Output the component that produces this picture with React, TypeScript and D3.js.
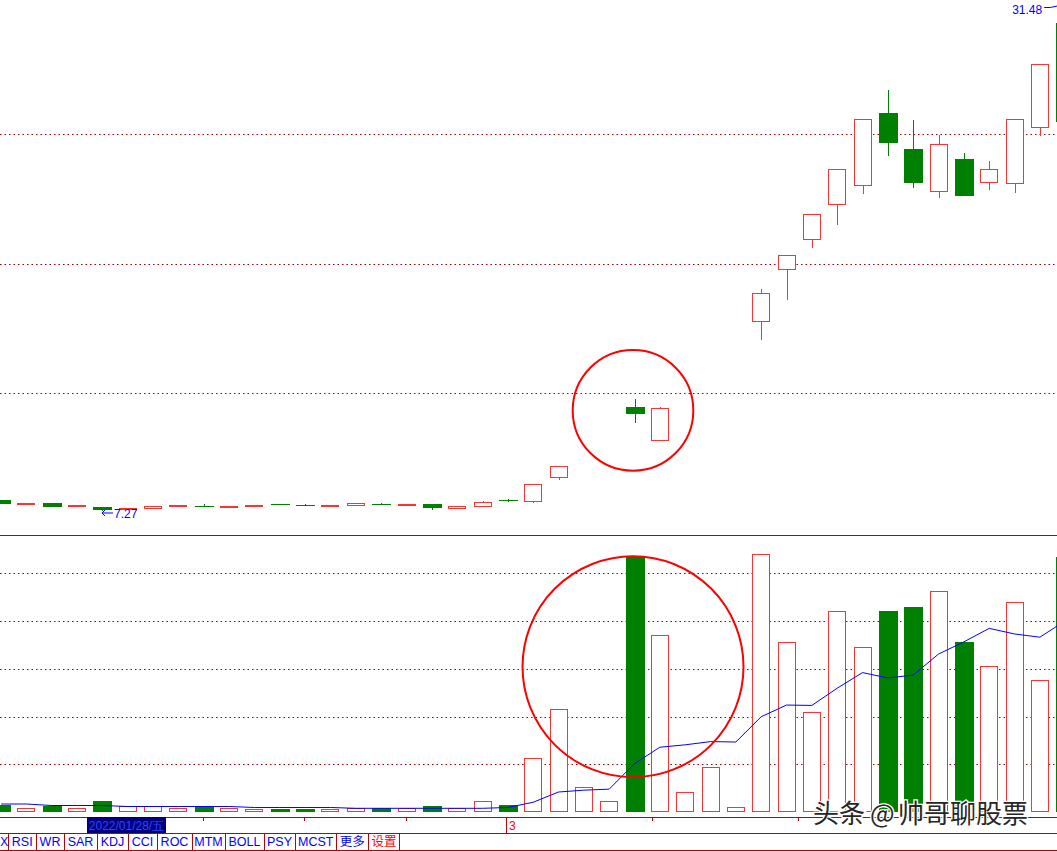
import React from 'react';
import * as d3 from 'd3';

// ---------- data (index -1 .. 41, one entry per trading day) ----------
const dayIndex = [-1, 0, 1, 2, 3, 4, 5, 6, 7, 8, 9, 10, 11, 12, 13, 14, 15, 16, 17, 18, 19, 20, 21, 22, 23, 24, 25, 26, 27, 28, 29, 30, 31, 32, 33, 34, 35, 36, 37, 38, 39, 40, 41];

const opens: (number | null)[] = [7.774, 7.534, 7.63, 7.438, 7.438, 7.28, 7.356, 7.453, 7.49, 7.404, 7.453, 7.57, 7.52, 7.438, 7.5, 7.57, 7.486, 7.582, 7.356, 7.453, 7.76, 7.678, 8.846, null, null, 12.227, 10.623, null, null, null, 16.31, 18.808, 20.264, 21.93, 22.843, 26.364, 24.635, 22.584, 24.155, 22.987, 22.939, 25.63, 30.7];
const highs: (number | null)[] = [7.774, 7.63, 7.63, 7.534, 7.438, 7.39, 7.5, 7.549, 7.568, 7.5, 7.549, 7.57, 7.58, 7.534, 7.63, 7.63, 7.582, 7.582, 7.486, 7.726, 7.837, 8.543, 9.408, null, null, 12.626, 12.24, null, null, null, 17.91, 19.529, 21.498, 23.66, 26.076, 27.47, 26.028, 25.31, 24.44, 24.06, 26.076, 28.718, 31.48];
const lows: (number | null)[] = [7.582, 7.534, 7.438, 7.438, 7.27, 7.28, 7.356, 7.453, 7.485, 7.404, 7.453, 7.565, 7.515, 7.438, 7.5, 7.565, 7.486, 7.31, 7.356, 7.453, 7.678, 7.63, 8.735, null, null, 11.488, 10.623, null, null, null, 15.46, 17.38, 19.89, 20.98, 22.46, 24.31, 22.776, 22.296, 22.39, 22.665, 22.536, 25.274, 25.9];
const closes: (number | null)[] = [7.582, 7.63, 7.438, 7.534, 7.294, 7.39, 7.5, 7.549, 7.485, 7.5, 7.549, 7.565, 7.515, 7.534, 7.63, 7.565, 7.582, 7.39, 7.486, 7.678, 7.755, 8.543, 9.408, null, null, 11.905, 12.179, null, null, null, 17.703, 19.529, 21.498, 23.66, 26.076, 24.937, 23.016, 24.861, 22.39, 23.66, 26.076, 28.718, 25.95];

const volumes = [3.01, 1.63, 2.72, 1.63, 4.81, 2.47, 2.47, 1.63, 2.47, 1.63, 1.21, 1.34, 1.34, 1.21, 1.55, 1.55, 1.55, 2.72, 1.55, 4.56, 3.01, 22.56, 43.07, 10.42, 4.56, 106.95, 74.05, 8.33, 18.79, 2.18, 107.95, 71.12, 41.82, 84.22, 69.02, 84.22, 85.89, 92.47, 71.24, 61.07, 87.99, 55.21, 106.95];
const volumeMA10 = [3.43, 3.43, 2.8, 2.8, 2.8, 2.39, 2.39, 2.39, 2.39, 2.39, 1.97, 1.97, 1.97, 1.97, 1.63, 1.63, 1.63, 1.63, 1.63, 1.63, 1.97, 4.16, 8.45, 9.22, 9.65, 20.3, 27.2, 28.2, 29.55, 29.38, 39.95, 44.85, 44.7, 51.9, 58.44, 56.17, 57.4, 66.2, 71.3, 76.95, 74.6, 73.25, 80.1];

const priceGrid = [12.9, 19.12, 25.34];
const volumeGrid = [20, 40, 60, 80, 100];
const timeTicks = [6.95, 10.96, 14.97, 24.7, 30.45];
const monthMarks = [{ at: 18.92, label: '3' }];
const cursorDate = '2022/01/28/五';
const tabLabels = ['X', 'RSI', 'WR', 'SAR', 'KDJ', 'CCI', 'ROC', 'MTM', 'BOLL', 'PSY', 'MCST', '更多', '设置'];
const highlightDay = 24;
const watermark = ['头条', '@', '帅哥聊股票'];

// ---------- styling ----------
const W = 1057;
const H = 852;
const RED = '#ff3232';
const GREEN = '#008000';
const BLUE = '#0000ff';
const LINE = '#c00000';
const GRID = '#a00000';
const FONT = '"Liberation Sans", Arial, sans-serif';
const CJK = '"Noto Sans CJK SC", "Liberation Sans", sans-serif';

export default function App() {
  const x = d3.scaleLinear().domain([-1, 41]).range([1.15, 1065.2]);
  const yP = d3.scaleLinear().domain([7.27, 31.48]).range([510.5, 6.5]);
  const yV = d3.scaleLinear().domain([0, 100]).range([812.2, 573.3]);

  const maLine = d3
    .line<number>()
    .x((_, k) => x(dayIndex[k]))
    .y((v) => yV(v))(volumeMA10) as string;

  // max / min labels
  const validHighs = highs.map((h, k) => ({ h, k })).filter((d) => d.h != null) as { h: number; k: number }[];
  const validLows = lows.map((l, k) => ({ l, k })).filter((d) => d.l != null) as { l: number; k: number }[];
  const maxItem = validHighs.reduce((a, b) => (b.h > a.h ? b : a));
  const minItem = validLows.reduce((a, b) => (b.l < a.l ? b : a));
  const maxX = x(dayIndex[maxItem.k]);
  const maxY = yP(maxItem.h);
  const minX = Math.round(x(dayIndex[minItem.k]));
  const minY = yP(minItem.l);

  const tabEdges = [8, 35.5, 63.5, 96.5, 127.5, 156.5, 191.5, 224.5, 263.5, 294.5, 336, 367.7, 399.3];

  const hx = x(highlightDay) - 1.5;

  return (
    <svg
      width={W}
      height={H}
      style={{ position: 'absolute', left: 0, top: 0, background: '#fff', display: 'block' }}
      xmlns="http://www.w3.org/2000/svg"
    >
      <rect x={0} y={0} width={W} height={H} fill="#fff" />

      {/* price grid */}
      {priceGrid.map((g) => (
        <line key={'pg' + g} x1={0} x2={W} y1={Math.round(yP(g)) + 0.5} y2={Math.round(yP(g)) + 0.5}
          stroke={GRID} strokeDasharray="1.5,3" strokeWidth={1} />
      ))}
      {/* volume grid */}
      {volumeGrid.map((g) => (
        <line key={'vg' + g} x1={0} x2={W} y1={Math.round(yV(g)) + 0.5} y2={Math.round(yV(g)) + 0.5}
          stroke={GRID} strokeDasharray="1.5,3" strokeWidth={1} />
      ))}

      {/* candles */}
      <g shapeRendering="crispEdges">
        {dayIndex.map((d, k) => {
          const o = opens[k];
          const c = closes[k];
          const h = highs[k];
          const l = lows[k];
          if (o == null || c == null || h == null || l == null) return null;
          const cx = Math.round(x(d));
          const up = c >= o;
          const yTop = Math.round(yP(Math.max(o, c)));
          const yBot = Math.round(yP(Math.min(o, c)));
          const yH = Math.round(yP(h));
          const yL = Math.round(yP(l));
          if (up) {
            return (
              <g key={'c' + k}>
                {yH < yTop && <line x1={cx + 0.5} x2={cx + 0.5} y1={yH} y2={yTop} stroke={RED} />}
                {yL > yBot && <line x1={cx + 0.5} x2={cx + 0.5} y1={yBot} y2={yL} stroke={RED} />}
                {yBot - yTop >= 2 ? (
                  <rect x={cx - 8.5} y={yTop + 0.5} width={17} height={yBot - yTop - 1} fill="#fff" stroke={RED} />
                ) : (
                  <rect x={cx - 9} y={yTop} width={18} height={Math.max(yBot - yTop, 1)} fill={RED} />
                )}
              </g>
            );
          }
          return (
            <g key={'c' + k}>
              {(yH < yTop || yL > yBot) && <rect x={cx} y={yH} width={1} height={Math.max(yL - yH, 1)} fill={GREEN} />}
              <rect x={cx - 9} y={yTop} width={19} height={Math.max(yBot - yTop, 1)} fill={GREEN} />
            </g>
          );
        })}
      </g>

      {/* volume bars */}
      <g shapeRendering="crispEdges">
        {dayIndex.map((d, k) => {
          const o = opens[k];
          const c = closes[k];
          const down = o != null && c != null && c < o;
          const cx = Math.round(x(d));
          const top = Math.round(yV(volumes[k]));
          const base = Math.round(yV(0));
          if (down) {
            return <rect key={'v' + k} x={cx - 9} y={top} width={19} height={base - top} fill={GREEN} />;
          }
          return (
            <rect key={'v' + k} x={cx - 8.5} y={top + 0.5} width={17} height={Math.max(base - top - 1, 0)}
              fill="#fff" stroke={RED} />
          );
        })}
      </g>

      {/* volume MA10 */}
      <path d={maLine} fill="none" stroke={BLUE} strokeWidth={1} />

      {/* max label */}
      <text x={maxX - 23} y={14} textAnchor="end" fontFamily={FONT} fontSize={12} fill={BLUE}>
        {maxItem.h.toFixed(2)}
      </text>
      <polyline points={`${maxX - 21},${maxY + 1} ${maxX - 15},${maxY + 1} ${maxX - 8},${maxY - 0.5}`}
        fill="none" stroke={BLUE} strokeWidth={1} />

      {/* min label */}
      <path d={`M${minX},${minY + 2.5} L${minX + 11},${minY + 2.5} M${minX + 3},${minY - 0.5} L${minX},${minY + 2.5} L${minX + 3},${minY + 5.5}`}
        fill="none" stroke={BLUE} strokeWidth={1} />
      <text x={minX + 12} y={minY + 7} fontFamily={FONT} fontSize={12} fill={BLUE}>
        {minItem.l.toFixed(2)}
      </text>

      {/* annotation circles */}
      <circle cx={hx} cy={410.4} r={60.3} fill="none" stroke="#ff0000" strokeWidth={2} />
      <circle cx={hx} cy={666.7} r={110.5} fill="none" stroke="#ff0000" strokeWidth={2} />

      {/* panel separators */}
      <g shapeRendering="crispEdges">
        <line x1={0} x2={W} y1={535.5} y2={535.5} stroke={LINE} />
        <line x1={0} x2={W} y1={817.5} y2={817.5} stroke={LINE} />
        <line x1={0} x2={W} y1={833.5} y2={833.5} stroke={LINE} />
        <line x1={0} x2={W} y1={850.5} y2={850.5} stroke={LINE} />
        {timeTicks.map((t) => (
          <line key={'t' + t} x1={Math.round(x(t)) + 0.5} x2={Math.round(x(t)) + 0.5} y1={817} y2={821} stroke={LINE} />
        ))}
        {monthMarks.map((m) => (
          <line key={'m' + m.at} x1={Math.round(x(m.at)) + 0.5} x2={Math.round(x(m.at)) + 0.5} y1={817} y2={833} stroke={LINE} />
        ))}
        {tabEdges.map((e) => (
          <line key={'te' + e} x1={Math.round(e) + 0.5} x2={Math.round(e) + 0.5} y1={833} y2={850} stroke={LINE} />
        ))}
      </g>
      {monthMarks.map((m) => (
        <text key={'ml' + m.at} x={Math.round(x(m.at)) + 3} y={830} fontFamily={FONT} fontSize={12} fill="#ff0000">
          {m.label}
        </text>
      ))}

      {/* cursor date box */}
      <rect x={87.5} y={817.5} width={78} height={15} fill="#000080" stroke="#000060" />
      <text x={126.5} y={829.5} textAnchor="middle" fontFamily={FONT} fontSize={12} fill="#2a48ff">
        {cursorDate}
      </text>

      {/* tabs */}
      {tabLabels.map((t, k) => {
        const isCJK = /[^\x00-\x7f]/.test(t);
        if (k === 0) {
          return (
            <text key={'tab' + t} x={0.3} y={846} fontFamily={FONT} fontSize={12} fill={BLUE}>
              {t}
            </text>
          );
        }
        const left = tabEdges[k - 1];
        const right = tabEdges[k];
        return (
          <text key={'tab' + t} x={(left + right) / 2 + 0.5} y={846} textAnchor="middle"
            fontFamily={isCJK ? CJK : FONT} fontSize={12.5}
            fill={t === '设置' ? '#ff0000' : BLUE}>
            {t}
          </text>
        );
      })}

      {/* watermark */}
      <g fontFamily={CJK} fontSize={26} fill="#262626" stroke="#ffffff" strokeWidth={2.5}
        style={{ paintOrder: 'stroke' } as React.CSSProperties}>
        <text x={813} y={823}>{watermark[0]}</text>
        <text x={870} y={823}>{watermark[1]}</text>
        <text x={898} y={823}>{watermark[2]}</text>
      </g>
    </svg>
  );
}
